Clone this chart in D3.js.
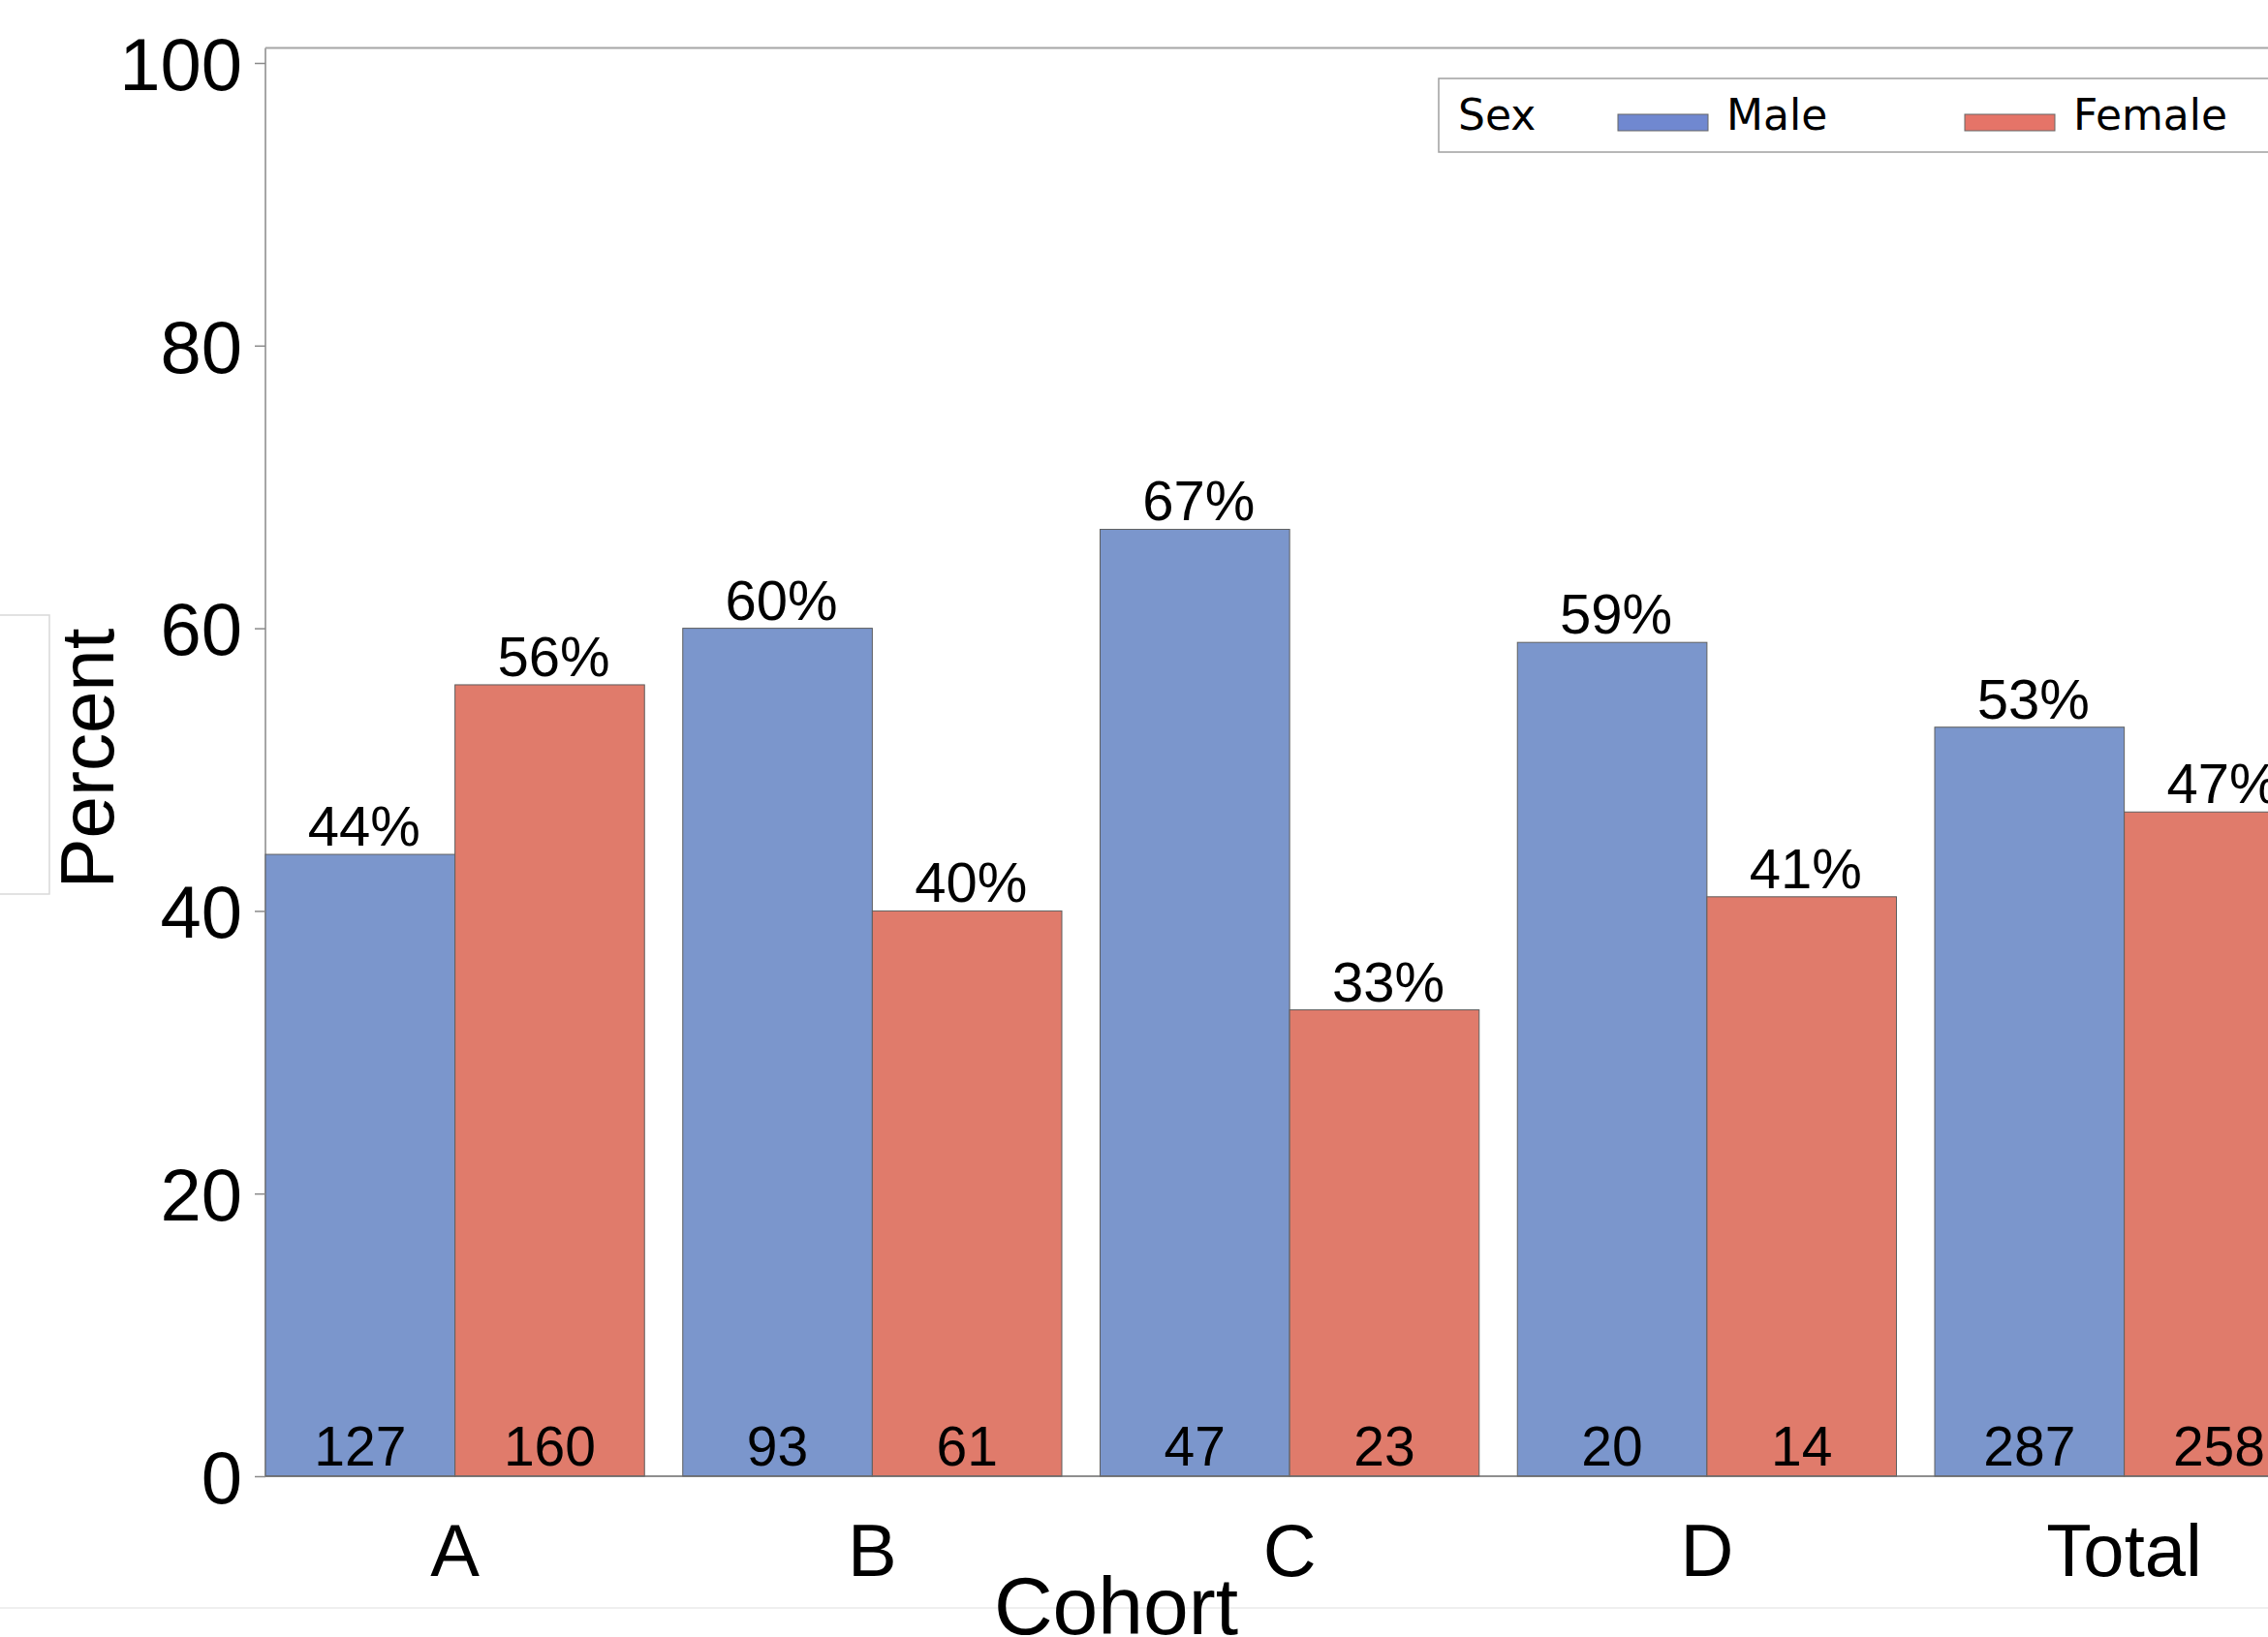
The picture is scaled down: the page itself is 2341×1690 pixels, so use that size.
<!DOCTYPE html>
<html>
<head>
<meta charset="utf-8">
<script src="https://cdn.jsdelivr.net/npm/d3@7"></script>
<style>
  html, body { margin: 0; padding: 0; background: #fff; }
  svg { display: block; }
</style>
</head>
<body>
<svg id="chart" width="2341" height="1690"></svg>
<script>
const categories = ["A", "B", "C", "D", "Total"];
const sexes = ["Male", "Female"];
const malePercent = [44, 60, 67, 59, 53];
const femalePercent = [56, 40, 33, 41, 47];
const maleCount = [127, 93, 47, 20, 287];
const femaleCount = [160, 61, 23, 14, 258];
const yTicks = [0, 20, 40, 60, 80, 100];

(function () {
const colors = { Male: "#7b96cc", Female: "#e07b6b" };
const legendColors = { Male: "#7088d0", Female: "#e57468" };

const rows = categories.map((c, i) => ({
  cat: c,
  bars: [
    { sex: "Male", pct: malePercent[i], n: maleCount[i] },
    { sex: "Female", pct: femalePercent[i], n: femaleCount[i] }
  ]
}));

const svg = d3.select("#chart");
svg.append("rect").attr("width", 2341).attr("height", 1690).attr("fill", "#fff");

const plotLeft = 274, plotTop = 49.5, plotBottom = 1524;
const step = 430.75, gap = 39.5;
const x = d3.scaleBand().domain(categories)
  .range([plotLeft, plotLeft + step * categories.length - gap])
  .paddingInner(gap / step).paddingOuter(0);
const xs = d3.scaleBand().domain(sexes).range([0, x.bandwidth()]);
const y = d3.scaleLinear().domain([0, 100]).range([plotBottom, 65]);

const labelFont = "'Liberation Sans', Arial, sans-serif";

// faint artifact line near bottom
svg.append("line").attr("x1", 0).attr("x2", 2341).attr("y1", 1660).attr("y2", 1660)
  .attr("stroke", "#efefef").attr("stroke-width", 2);

// left stray box
svg.append("rect").attr("x", -10).attr("y", 635).attr("width", 61).attr("height", 288)
  .attr("fill", "none").attr("stroke", "#d9d9d9").attr("stroke-width", 1.5);

// frame
svg.append("line").attr("x1", plotLeft).attr("x2", 2400).attr("y1", plotTop).attr("y2", plotTop)
  .attr("stroke", "#a6a6a6").attr("stroke-width", 2);
svg.append("line").attr("x1", plotLeft).attr("x2", plotLeft).attr("y1", plotTop).attr("y2", plotBottom)
  .attr("stroke", "#a6a6a6").attr("stroke-width", 2);

// bars
const g = svg.append("g");
const grp = g.selectAll("g.grp").data(rows).join("g")
  .attr("class", "grp")
  .attr("transform", d => `translate(${x(d.cat)},0)`);

grp.selectAll("rect").data(d => d.bars).join("rect")
  .attr("x", d => xs(d.sex))
  .attr("y", d => y(d.pct))
  .attr("width", xs.bandwidth())
  .attr("height", d => y(0) - y(d.pct))
  .attr("fill", d => colors[d.sex])
  .attr("stroke", "#5f5f5f")
  .attr("stroke-width", 1);

grp.selectAll("text.pct").data(d => d.bars).join("text")
  .attr("class", "pct")
  .attr("x", d => xs(d.sex) + xs.bandwidth() / 2 + 4)
  .attr("y", d => y(d.pct) - 9)
  .attr("text-anchor", "middle")
  .attr("font-family", labelFont)
  .attr("font-size", 58)
  .attr("fill", "#000")
  .text(d => d.pct + "%");

grp.selectAll("text.cnt").data(d => d.bars).join("text")
  .attr("class", "cnt")
  .attr("x", d => xs(d.sex) + xs.bandwidth() / 2)
  .attr("y", plotBottom - 11)
  .attr("text-anchor", "middle")
  .attr("font-family", labelFont)
  .attr("font-size", 57)
  .attr("fill", "#000")
  .text(d => d.n);

// bottom axis line
svg.append("line").attr("x1", plotLeft).attr("x2", 2400).attr("y1", plotBottom).attr("y2", plotBottom)
  .attr("stroke", "#6a6a6a").attr("stroke-width", 1.5);

// y axis
const yAxis = d3.axisLeft(y).tickValues(yTicks).tickSize(11).tickPadding(13);
const ya = svg.append("g").attr("transform", `translate(${plotLeft},0)`).call(yAxis);
ya.select(".domain").remove();
ya.selectAll(".tick line").attr("stroke", "#8a8a8a").attr("stroke-width", 1.5);
ya.selectAll(".tick text")
  .attr("font-family", labelFont).attr("font-size", 76).attr("fill", "#000")
  .attr("dy", "0.36em");

// x axis labels
const xAxis = d3.axisBottom(x).tickSize(0).tickPadding(0);
const xa = svg.append("g").attr("transform", `translate(0,${plotBottom})`).call(xAxis);
xa.select(".domain").remove();
xa.selectAll(".tick text")
  .attr("font-family", labelFont).attr("font-size", 76).attr("fill", "#000")
  .attr("y", 103).attr("dy", 0);

// axis titles
svg.append("text")
  .attr("transform", "translate(117,783) rotate(-90)")
  .attr("text-anchor", "middle")
  .attr("font-family", labelFont).attr("font-size", 78).attr("fill", "#000")
  .text("Percent");

svg.append("text")
  .attr("x", 1152).attr("y", 1687)
  .attr("text-anchor", "middle")
  .attr("font-family", labelFont).attr("font-size", 84).attr("fill", "#000")
  .text("Cohort");

// legend
const lg = svg.append("g");
lg.append("rect").attr("x", 1485).attr("y", 81).attr("width", 1000).attr("height", 76)
  .attr("fill", "#fff").attr("stroke", "#a0a0a0").attr("stroke-width", 1.5);
const legendFont = "'DejaVu Sans', sans-serif";
lg.append("text").attr("x", 1505).attr("y", 134)
  .attr("font-family", legendFont).attr("font-size", 44).attr("fill", "#000").text("Sex");
const legendItems = [
  { sex: "Male", sx: 1670, tx: 1782 },
  { sex: "Female", sx: 2028, tx: 2140 }
];
legendItems.forEach(it => {
  lg.append("rect").attr("x", it.sx).attr("y", 118).attr("width", 93).attr("height", 17)
    .attr("fill", legendColors[it.sex]).attr("stroke", "#666").attr("stroke-width", 1);
  lg.append("text").attr("x", it.tx).attr("y", 134)
    .attr("font-family", legendFont).attr("font-size", 44).attr("fill", "#000").text(it.sex);
});
})();
</script>
</body>
</html>
